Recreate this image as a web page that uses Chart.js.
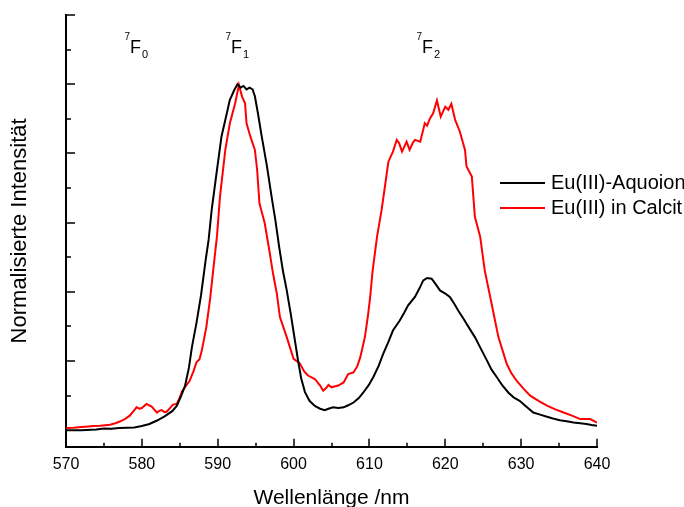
<!DOCTYPE html>
<html>
<head>
<meta charset="utf-8">
<script src="https://cdn.jsdelivr.net/npm/chart.js@4/dist/chart.umd.min.js"></script>
<style>
  html, body { margin:0; padding:0; background:#fff; }
  #wrap { width:684px; height:507px; position:relative; }
</style>
</head>
<body>
<div id="wrap"><canvas id="spec"></canvas></div>
<script>
/* ── Eu(III) luminescence spectra ── */
const FONT = '"Liberation Sans", Arial, sans-serif';
const SERIES_NAMES = ['Eu(III)-Aquoion', 'Eu(III) in Calcit'];
const SERIES_COLORS = ['#000000', '#ff0000'];

const WL_AQUO = [570,572,574,575,576,577,578,579,580,581,582,583,584,584.6,585.2,585.7,586.2,586.6,587.2,587.8,588.4,588.8,589.2,589.9,590.5,591.2,591.6,592.2,592.6,593.0,593.4,593.8,594.2,594.6,594.9,595.3,595.8,596.5,597.1,597.6,598.1,598.6,599.1,599.6,600.1,600.6,601.0,601.5,602.1,602.8,603.5,604.1,604.6,605.2,605.9,606.6,607.2,607.9,608.6,609.2,609.9,610.5,611.2,611.8,612.5,613.1,614.0,614.6,615.1,616.0,616.6,617.1,617.6,618.2,618.8,619.3,620.0,620.6,621.2,621.7,622.4,623.3,623.9,624.7,625.5,626.1,626.8,627.5,628.3,629.0,629.8,630.7,631.6,632.5,633.4,634.2,635.1,636.0,636.9,637.8,638.6,639.3,640];
const INT_AQUO = [0.0,0.0,0.002,0.005,0.004,0.006,0.007,0.008,0.012,0.018,0.028,0.04,0.055,0.07,0.1,0.129,0.18,0.24,0.31,0.39,0.49,0.55,0.636,0.752,0.849,0.916,0.955,0.984,1.0,0.99,0.995,0.985,0.99,0.985,0.965,0.916,0.849,0.762,0.675,0.607,0.53,0.46,0.404,0.34,0.27,0.2,0.15,0.11,0.085,0.07,0.062,0.058,0.062,0.066,0.064,0.066,0.072,0.08,0.093,0.109,0.13,0.153,0.185,0.22,0.255,0.288,0.317,0.34,0.361,0.385,0.41,0.433,0.44,0.438,0.42,0.404,0.395,0.385,0.365,0.346,0.322,0.29,0.269,0.235,0.201,0.175,0.153,0.13,0.109,0.095,0.085,0.068,0.051,0.045,0.039,0.034,0.029,0.026,0.022,0.02,0.018,0.015,0.013];

const WL_CALCIT = [570,571,572,573,573.6,574.5,575.8,576.5,577.1,577.8,578.4,578.9,579.3,579.7,580.0,580.6,581.3,581.7,582.0,582.3,582.6,583.0,583.3,583.7,584.1,584.6,585.0,585.3,585.8,586.3,586.8,587.2,587.6,587.9,588.5,589.0,589.6,589.9,590.3,591.0,591.6,592.3,592.8,593.2,593.6,593.8,594.3,594.9,595.2,595.5,596.2,596.8,597.3,597.8,598.2,599.1,600.0,600.8,601.4,601.9,602.8,603.5,603.9,604.3,604.6,605.0,605.5,605.9,606.6,607.2,607.9,608.4,608.8,609.4,609.8,610.1,610.4,611.0,611.6,612.1,612.5,613.1,613.6,613.9,614.3,614.9,615.3,615.7,616.0,616.7,617.3,617.6,618.0,618.4,618.9,619.4,620.0,620.4,620.8,621.3,621.9,622.6,622.8,623.5,623.9,624.6,625.2,626.1,627.0,628.1,628.7,629.4,630.3,631.2,632.3,633.4,634.5,635.6,636.7,637.8,639.1,640];
const INT_CALCIT = [0.006,0.007,0.009,0.011,0.012,0.013,0.016,0.02,0.025,0.033,0.042,0.055,0.066,0.062,0.064,0.076,0.068,0.058,0.051,0.056,0.058,0.052,0.054,0.064,0.074,0.076,0.095,0.112,0.128,0.143,0.17,0.196,0.205,0.23,0.298,0.38,0.501,0.56,0.675,0.81,0.887,0.945,0.998,0.965,0.945,0.887,0.849,0.81,0.752,0.656,0.598,0.52,0.452,0.394,0.327,0.269,0.206,0.194,0.17,0.158,0.148,0.129,0.114,0.122,0.131,0.124,0.127,0.129,0.138,0.162,0.167,0.185,0.211,0.269,0.33,0.385,0.457,0.559,0.636,0.713,0.776,0.805,0.839,0.83,0.805,0.834,0.81,0.83,0.839,0.834,0.887,0.88,0.902,0.916,0.953,0.906,0.935,0.926,0.943,0.897,0.864,0.81,0.762,0.733,0.617,0.559,0.462,0.366,0.269,0.192,0.165,0.143,0.12,0.1,0.085,0.071,0.06,0.051,0.042,0.032,0.032,0.022];

const X_MAJOR = [570,580,590,600,610,620,630,640];
const X_MINOR = [575,585,595,605,615,625,635];
const Y_MAJOR = [0.2,0.4,0.6,0.8,1.0,1.2];
const Y_MINOR = [0.1,0.3,0.5,0.7,0.9,1.1];

/* transition labels 7F0 / 7F1 / 7F2 */
const TERM_SUBS = ['0','1','2'];
const TERM_WL = [578.44, 591.75, 616.93];

const toPts = (xs, ys) => xs.map((x,i) => ({x, y:ys[i]}));

/* inward tick marks, legend and term labels */
const decorPlugin = {
  id:'decor',
  afterDraw(chart) {
    const {ctx, chartArea:a, scales:{x, y}} = chart;
    ctx.save();
    ctx.strokeStyle = '#000';
    ctx.lineWidth = 1.5;
    ctx.beginPath();
    X_MAJOR.forEach(v => { const p = Math.round(x.getPixelForValue(v)); ctx.moveTo(p, a.bottom); ctx.lineTo(p, a.bottom-8); });
    X_MINOR.forEach(v => { const p = Math.round(x.getPixelForValue(v)); ctx.moveTo(p, a.bottom); ctx.lineTo(p, a.bottom-4); });
    Y_MAJOR.forEach(v => { const p = Math.round(y.getPixelForValue(v)); ctx.moveTo(a.left, p); ctx.lineTo(a.left+9, p); });
    Y_MINOR.forEach(v => { const p = Math.round(y.getPixelForValue(v)); ctx.moveTo(a.left, p); ctx.lineTo(a.left+5, p); });
    ctx.stroke();

    // legend
    ctx.fillStyle = '#000';
    ctx.font = '20px ' + FONT;
    ctx.textBaseline = 'middle';
    SERIES_NAMES.forEach((name, i) => {
      const ly = 183 + i*25;
      ctx.strokeStyle = SERIES_COLORS[i];
      ctx.lineWidth = 2;
      ctx.beginPath(); ctx.moveTo(500, ly); ctx.lineTo(545, ly); ctx.stroke();
      ctx.fillText(name, 551, ly);
    });

    // term labels
    ctx.textBaseline = 'alphabetic';
    TERM_WL.forEach((wl, i) => {
      const fx = x.getPixelForValue(wl);
      ctx.font = '10px ' + FONT;
      ctx.textAlign = 'right';
      ctx.fillText('7', fx, 40);
      ctx.font = '18px ' + FONT;
      ctx.textAlign = 'left';
      ctx.fillText('F', fx, 53);
      const fw = ctx.measureText('F').width;
      ctx.font = '11px ' + FONT;
      ctx.fillText(TERM_SUBS[i], fx + fw + 1, 58);
    });
    ctx.restore();
  }
};

new Chart(document.getElementById('spec').getContext('2d'), {
  type:'line',
  data:{
    datasets:[
      { label:SERIES_NAMES[0], data:toPts(WL_AQUO, INT_AQUO), borderColor:SERIES_COLORS[0], borderWidth:2, pointRadius:0, tension:0 },
      { label:SERIES_NAMES[1], data:toPts(WL_CALCIT, INT_CALCIT), borderColor:SERIES_COLORS[1], borderWidth:2, pointRadius:0, tension:0 }
    ]
  },
  options:{
    responsive:true, maintainAspectRatio:false, animation:false,
    layout:{ padding:{ left:0, top:15, right:87, bottom:0 } },
    plugins:{ legend:{ display:false }, tooltip:{ enabled:false } },
    scales:{
      x:{
        type:'linear', min:570, max:640,
        grid:{ display:false, drawTicks:false },
        border:{ display:true, color:'#000', width:2 },
        afterBuildTicks: s => { s.ticks = X_MAJOR.map(v => ({value:v})); },
        ticks:{ color:'#000', padding:8, font:{ family:FONT, size:16 }, maxRotation:0 },
        title:{ display:true, text:'Wellenlänge /nm', color:'#000', font:{ family:FONT, size:21, lineHeight:1 }, padding:{ top:6, bottom:-2 } }
      },
      y:{
        type:'linear', min:-0.048, max:1.2,
        grid:{ display:false, drawTicks:false },
        border:{ display:true, color:'#000', width:2 },
        ticks:{ display:false },
        title:{ display:true, text:'Normalisierte Intensität', color:'#000', font:{ family:FONT, size:22, lineHeight:1 }, padding:{ top:9, bottom:35 } }
      }
    }
  },
  plugins:[decorPlugin]
});
</script>
</body>
</html>
